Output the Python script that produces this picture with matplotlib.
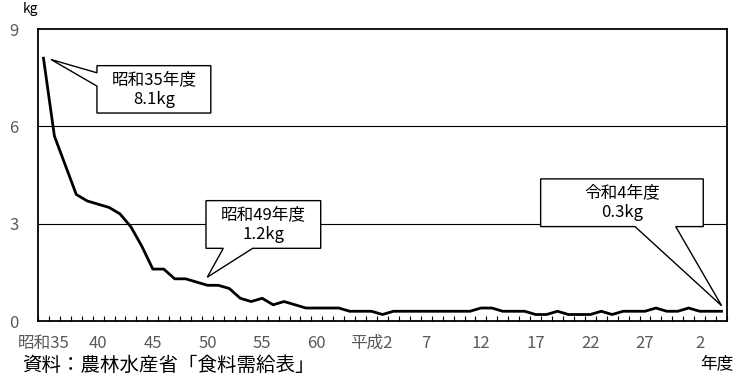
import numpy as np
import matplotlib
matplotlib.use("Agg")
import matplotlib.pyplot as plt
from matplotlib.patches import Polygon

plt.rcParams["font.family"] = ["Noto Sans CJK JP", "DejaVu Sans"]

# Per-capita annual consumption (kg), fiscal years 1960 (昭和35) to 2022 (令和4)
years = list(range(1960, 2023))
values = [
    8.1, 5.7, 4.8, 3.9, 3.7, 3.6, 3.5, 3.3, 2.9, 2.3,
    1.6, 1.6, 1.3, 1.3, 1.2, 1.1, 1.1, 1.0, 0.7, 0.6,
    0.7, 0.5, 0.6, 0.5, 0.4, 0.4, 0.4, 0.4, 0.3, 0.3,
    0.3, 0.2, 0.3, 0.3, 0.3, 0.3, 0.3, 0.3, 0.3, 0.3,
    0.4, 0.4, 0.3, 0.3, 0.3, 0.2, 0.2, 0.3, 0.2, 0.2,
    0.2, 0.3, 0.2, 0.3, 0.3, 0.3, 0.4, 0.3, 0.3, 0.4,
    0.3, 0.3, 0.3,
]
tick_years = [1960, 1965, 1970, 1975, 1980, 1985, 1990, 1995, 2000, 2005, 2010, 2015, 2020]
tick_labels = ["昭和35", "40", "45", "50", "55", "60", "平成2", "7", "12", "17", "22", "27", "2"]
y_ticks = [0, 3, 6, 9]

# callouts: text, box (x0, y0, x1, y1), side with wedge, wedge base, tip
callouts = [
    ("昭和35年度\n8.1kg", (4.89, 6.41, 15.3, 7.87), "left", (7.65, 7.24), (0.69, 8.06)),
    ("昭和49年度\n1.2kg", (14.86, 2.24, 25.35, 3.71), "bottom", (16.44, 19.13), (14.98, 1.35)),
    ("令和4年度\n0.3kg", (45.46, 2.91, 60.33, 4.38), "bottom", (54.09, 57.81), (62.01, 0.47)),
]

fig = plt.figure(figsize=(7.36, 3.76), dpi=100)
ax = fig.add_axes([38 / 736, 1 - 321 / 376, (727 - 38) / 736, (321 - 29) / 376])

x = np.arange(len(years))
ax.plot(x, values, color="black", linewidth=2.0, solid_joinstyle="round", zorder=3)

ax.set_xlim(-0.5, len(years) - 0.5)
ax.set_ylim(0, 9)

# y axis
ax.set_yticks(y_ticks)
ax.set_yticklabels([str(v) for v in y_ticks])
ax.tick_params(axis="y", length=0, pad=14, labelsize=12, labelcolor="#595959")
for v in y_ticks[1:-1]:
    ax.axhline(v, color="black", linewidth=0.8, zorder=1)

# x axis: labels at category centres, small ticks at category boundaries
ax.set_xticks([years.index(y) for y in tick_years])
ax.set_xticklabels(tick_labels)
ax.set_xticks(np.arange(len(years) + 1) - 0.5, minor=True)
ax.tick_params(axis="x", which="major", length=0, pad=10, labelsize=12, labelcolor="#595959")
ax.tick_params(axis="x", which="minor", direction="in", length=3.5, width=0.8, color="black")

for s in ax.spines.values():
    s.set_linewidth(1.3)
    s.set_color("black")


def draw_callout(ax, text, box, side, base, tip):
    x0, y0, x1, y1 = box
    if side == "left":
        pts = [(x0, y1), (x1, y1), (x1, y0), (x0, y0),
               (x0, base[1]), tip, (x0, base[0])]
    else:
        pts = [(x0, y1), (x1, y1), (x1, y0),
               (base[1], y0), tip, (base[0], y0), (x0, y0)]
    ax.add_patch(Polygon(pts, closed=True, facecolor="white", edgecolor="black",
                         linewidth=1.0, zorder=5, clip_on=False))
    ax.text((x0 + x1) / 2, (y0 + y1) / 2, text, ha="center", va="center",
            fontsize=12, linespacing=1.25, zorder=6)


for c in callouts:
    draw_callout(ax, *c)

fig.text(30 / 736, 1 - 9 / 376, "kg", ha="center", va="center", fontsize=10)
fig.text(717 / 736, 1 - 364 / 376, "年度", ha="center", va="center", fontsize=12)
fig.text(22 / 736, 1 - 365 / 376, "資料：農林水産省「食料需給表」", ha="left", va="center", fontsize=14)

fig.savefig("out.png", dpi=100)
